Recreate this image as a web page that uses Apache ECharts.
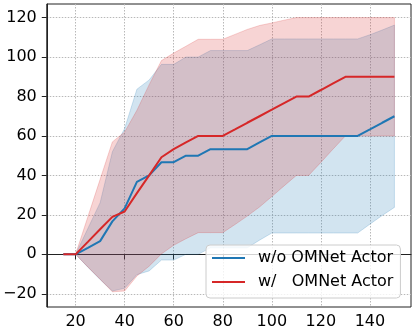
<!DOCTYPE html>
<html>
<head>
<meta charset="utf-8">
<script src="https://cdn.jsdelivr.net/npm/echarts@6/dist/echarts.min.js"></script>
<style>
  html, body { margin: 0; padding: 0; background: #fff; }
  #chart { width: 415px; height: 334px; }
</style>
</head>
<body>
<div id="chart"></div>
<script>
// training steps (x)
const steps = [15, 20, 25, 30, 35, 40, 45, 50, 55, 60, 65, 70, 75, 80, 85, 90, 95, 100, 105, 110, 115, 120, 125, 130, 135, 140, 145, 150];

// w/o OMNet Actor: mean and std
const woMean = [0, 0, 3.3, 6.7, 16.7, 23.3, 36.7, 40, 46.7, 46.7, 50, 50, 53.3, 53.3, 53.3, 53.3, 56.7, 60, 60, 60, 60, 60, 60, 60, 60, 63.3, 66.7, 70];
const woStd = [0, 0, 9.8, 19.5, 35.3, 40.5, 47, 48.4, 49.6, 49.6, 50, 50, 50, 50, 50, 50, 49.5, 49.2, 49.2, 49.2, 49.2, 49.2, 49.2, 49.2, 49.2, 48, 47, 46.2];

// w/ OMNet Actor: mean and std
const wMean = [0, 0, 6.3, 12.7, 19, 21.7, 31, 40, 49.2, 53.3, 56.7, 60, 60, 60, 63.3, 66.7, 70, 73.3, 76.7, 80, 80, 83.3, 86.7, 90, 90, 90, 90, 90];
const wStd = [0, 0, 12.7, 25.3, 38, 40.3, 42, 46, 49, 48.7, 48.8, 49, 49, 49, 48.2, 47.3, 46, 44, 42, 40, 40, 36.7, 33.3, 30, 30, 30, 30, 30];

const xTicks = [20, 40, 60, 80, 100, 120, 140];
const yTicks = [-20, 0, 20, 40, 60, 80, 100, 120];

const names = ['w/o OMNet Actor', 'w/   OMNet Actor'];

const font = 'DejaVu Sans';
const blue = '#1f77b4';
const red = '#d62728';

// shaded mean +/- std band, one polygon through the axis scales
function band(mean, std, fill) {
  const rows = steps.map((x, i) => [x, mean[i] - std[i], mean[i] + std[i]]);
  return {
    type: 'custom',
    silent: true,
    data: rows,
    encode: { x: 0, y: [1, 2] },
    renderItem: function (params, api) {
      if (params.dataIndex !== 0) return;
      const upper = rows.map(r => api.coord([r[0], r[2]]));
      const lower = rows.map(r => api.coord([r[0], r[1]]));
      const poly = upper.concat(lower.slice().reverse());
      return {
        type: 'group',
        children: [
          { type: 'polygon', shape: { points: poly }, style: { fill: fill, stroke: fill, lineWidth: 1 } }
        ]
      };
    }
  };
}

function fmt(v) {
  return v < 0 ? '\u2212' + Math.abs(v) : String(v);
}

const chart = echarts.init(document.getElementById('chart'));

const option = {
  animation: false,
  grid: { left: 46, right: 4, top: 4, bottom: 27, show: true, borderColor: '#222', borderWidth: 1 },
  xAxis: {
    type: 'value', min: 8.25, max: 156.75,
    axisLine: { lineStyle: { color: '#222', width: 1 } },
    axisTick: { length: 5, lineStyle: { color: '#222' }, customValues: xTicks },
    axisLabel: { customValues: xTicks, formatter: fmt, color: '#000', fontFamily: font, fontSize: 16, margin: 7 },
    splitLine: { show: true, lineStyle: { color: '#b8b8b8', type: [1.5, 1.5], width: 1 } }
  },
  yAxis: {
    type: 'value', min: -26.7, max: 126.9,
    axisLine: { show: true, lineStyle: { color: '#222', width: 1 } },
    axisTick: { show: true, length: 5, lineStyle: { color: '#222' }, customValues: yTicks },
    axisLabel: { customValues: yTicks, formatter: fmt, color: '#000', fontFamily: font, fontSize: 16, margin: 10 },
    splitLine: { show: true, lineStyle: { color: '#b8b8b8', type: [1.5, 1.5], width: 1 } }
  },
  legend: {
    data: names,
    orient: 'vertical',
    left: 206, top: 245,
    padding: [5, 7, 8, 6],
    icon: 'rect',
    itemWidth: 33, itemHeight: 2, itemGap: 8,
    backgroundColor: 'rgba(255,255,255,0.8)',
    borderColor: '#cccccc', borderWidth: 1, borderRadius: 4,
    textStyle: { fontFamily: font, fontSize: 16, lineHeight: 16, color: '#000', padding: [0, 0, 0, 8] }
  },
  series: [
    band(woMean, woStd, 'rgba(31,119,180,0.2)'),
    band(wMean, wStd, 'rgba(214,39,40,0.2)'),
    {
      name: names[0], type: 'line', symbol: 'none', color: blue,
      data: steps.map((x, i) => [x, woMean[i]]),
      lineStyle: { color: blue, width: 2 }
    },
    {
      name: names[1], type: 'line', symbol: 'none', color: red,
      data: steps.map((x, i) => [x, wMean[i]]),
      lineStyle: { color: red, width: 2 }
    }
  ]
};

chart.setOption(option);
</script>
</body>
</html>
